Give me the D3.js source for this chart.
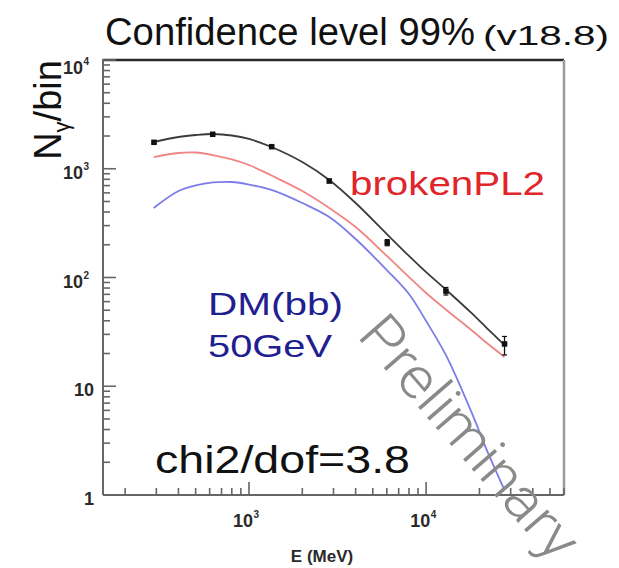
<!DOCTYPE html>
<html><head><meta charset="utf-8">
<script src="https://cdn.jsdelivr.net/npm/d3@7"></script>
<style>body{margin:0;background:#fff}svg{display:block}</style>
</head><body><svg id="c" width="619" height="568"></svg>
<script>
// ---- data ----
const binEnergy = [291, 624, 1343, 2840, 6030, 12930, 27700];     // MeV
const binCounts = [1750, 2075, 1595, 771, 209, 75, 24.5];
const errMinus  = [50, 50, 45, 28, 13, 6, 5.1];
const errPlus   = [50, 50, 45, 30, 14, 6, 4.2];

const curveEnergy = [290, 400, 500, 625, 800, 1000, 1340, 2000, 2840, 4000, 6000, 8000, 10000, 13000, 18000, 22000, 27700];
const totalFit    = [1762, 1959, 2043, 2088, 2022, 1878, 1585, 1153, 788, 484, 251, 158, 112, 76.7, 47.2, 34.3, 23.9];
const brokenPL2   = [1282, 1396, 1410, 1337, 1217, 1082, 867, 624, 436, 291, 158, 101, 72, 50.3, 32.9, 25.0, 18.6];
const dmBB        = [436, 624, 702, 748, 755, 716, 638, 484, 360, 226, 117, 70.5, 39.8, 19.0, 5.80, 2.59, 1.11];

const xDomain = [150, 60000];
const yDomain = [1, 10000];
const xLabelExps = [3, 4];
const yLabelExps = [0, 1, 2, 3, 4];

// ---- drawing ----
const svg = d3.select('#c');
const F = "'Liberation Sans', Arial, sans-serif";
const x = d3.scaleLog().domain(xDomain).range([103, 564]);
const y = d3.scaleLog().domain(yDomain).range([495, 60]);
const [x0, x1] = x.range(), [y0, y1] = y.range();

svg.append('rect').attr('width', 619).attr('height', 568).attr('fill', '#fff');

// frame
svg.append('line').attr('x1', x0).attr('x2', x1).attr('y1', y1).attr('y2', y1).attr('stroke', '#2a2a2a').attr('stroke-width', 2.5);
svg.append('line').attr('x1', x1).attr('x2', x1).attr('y1', y1).attr('y2', y0).attr('stroke', '#9a9a9a').attr('stroke-width', 2.5);
svg.append('line').attr('x1', x0).attr('x2', x0).attr('y1', y1 - 1).attr('y2', y0).attr('stroke', '#666').attr('stroke-width', 2);
svg.append('line').attr('x1', x0).attr('x2', x1).attr('y1', y0).attr('y2', y0).attr('stroke', '#666').attr('stroke-width', 2);

function logTicks(domain) {
  const out = [];
  const lo = Math.floor(Math.log10(domain[0])), hi = Math.ceil(Math.log10(domain[1]));
  for (let e = lo; e <= hi; e++) for (let m = 1; m <= 9; m++) {
    const v = m * Math.pow(10, e);
    if (v >= domain[0] * 0.999 && v <= domain[1] * 1.001) out.push({ v, major: m === 1 });
  }
  return out;
}
// y ticks (inside, to the right)
svg.append('g').selectAll('line').data(logTicks(yDomain)).join('line')
  .attr('x1', x0).attr('x2', d => x0 + (d.major ? 13 : 7))
  .attr('y1', d => y(d.v)).attr('y2', d => y(d.v))
  .attr('stroke', '#666').attr('stroke-width', 1.6);
// x ticks (inside, upward)
svg.append('g').selectAll('line').data(logTicks(xDomain)).join('line')
  .attr('y1', y0).attr('y2', d => y0 - (d.major ? 13 : 7))
  .attr('x1', d => x(d.v)).attr('x2', d => x(d.v))
  .attr('stroke', '#666').attr('stroke-width', 1.6);

// y tick labels
const yl = svg.append('g').selectAll('text').data(yLabelExps).join('text')
  .attr('x', d => d >= 2 ? 89 : 94).attr('y', d => y(Math.pow(10, d)) + (d === 4 ? 14 : 10))
  .attr('text-anchor', 'end').attr('font-family', F).attr('font-weight', 'bold')
  .attr('font-size', 18).attr('fill', '#2a2a2a');
yl.each(function (d) {
  const t = d3.select(this);
  if (d === 0) t.text('1');
  else if (d === 1) t.text('10');
  else {
    t.text('10');
    t.append('tspan').attr('font-size', 10).attr('dy', -9).attr('dx', 0.5).text(d);
  }
});
// x tick labels
svg.append('g').selectAll('text').data(xLabelExps).join('text')
  .attr('x', d => x(Math.pow(10, d)) - 16).attr('y', d => y0 + 32)
  .attr('font-family', F).attr('font-weight', 'bold').attr('font-size', 18).attr('fill', '#2a2a2a')
  .each(function (d) {
    const t = d3.select(this);
    t.text('10');
    t.append('tspan').attr('font-size', 10).attr('dy', -9).attr('dx', 0.5).text(d);
  });

// axis titles
svg.append('text').attr('x', 322).attr('y', 562).attr('text-anchor', 'middle')
  .attr('font-family', F).attr('font-weight', 'bold').attr('font-size', 17).attr('fill', '#2a2a2a')
  .text('E (MeV)');
const yt = svg.append('text').attr('transform', 'translate(61,110) rotate(-90)')
  .attr('text-anchor', 'middle').attr('font-family', F).attr('font-size', 38).attr('fill', '#111');
yt.append('tspan').text('N');
yt.append('tspan').attr('font-size', 22).attr('dy', 8).text('γ');
yt.append('tspan').attr('dy', -8).text('/bin');

// title
svg.append('text').attr('x', 105).attr('y', 45).attr('font-family', F).attr('fill', '#111')
  .attr('font-size', 39).attr('textLength', 370).attr('lengthAdjust', 'spacingAndGlyphs')
  .text('Confidence level 99%');
svg.append('text').attr('x', 483).attr('y', 45).attr('font-family', F).attr('fill', '#111')
  .attr('font-size', 27).attr('textLength', 126).attr('lengthAdjust', 'spacingAndGlyphs')
  .text('(v18.8)');

// curves
const line = d3.line().x(d => x(d[0])).y(d => y(d[1])).curve(d3.curveCatmullRom.alpha(0.5));
const series = [
  { vals: dmBB, color: '#7d7dea' },
  { vals: brokenPL2, color: '#ef8585' },
  { vals: totalFit, color: '#3c3c3c' }
];
svg.append('g').selectAll('path').data(series).join('path')
  .attr('d', s => line(curveEnergy.map((e, i) => [e, s.vals[i]])))
  .attr('fill', 'none').attr('stroke', s => s.color).attr('stroke-width', 1.8);

// data points with error bars
const pts = binEnergy.map((e, i) => ({ e, n: binCounts[i], lo: binCounts[i] - errMinus[i], hi: binCounts[i] + errPlus[i] }));
const pg = svg.append('g');
pg.selectAll('line.eb').data(pts).join('line').attr('class', 'eb')
  .attr('x1', d => x(d.e)).attr('x2', d => x(d.e)).attr('y1', d => y(d.lo)).attr('y2', d => y(d.hi))
  .attr('stroke', '#111').attr('stroke-width', 1.3);
pg.selectAll('line.cap1').data(pts).join('line').attr('class', 'cap1')
  .attr('x1', d => x(d.e) - 2.5).attr('x2', d => x(d.e) + 2.5).attr('y1', d => y(d.lo)).attr('y2', d => y(d.lo))
  .attr('stroke', '#111').attr('stroke-width', 1.2);
pg.selectAll('line.cap2').data(pts).join('line').attr('class', 'cap2')
  .attr('x1', d => x(d.e) - 2.5).attr('x2', d => x(d.e) + 2.5).attr('y1', d => y(d.hi)).attr('y2', d => y(d.hi))
  .attr('stroke', '#111').attr('stroke-width', 1.2);
pg.selectAll('rect').data(pts).join('rect')
  .attr('x', d => x(d.e) - 2.75).attr('y', d => y(d.n) - 2.75).attr('width', 5.5).attr('height', 5.5).attr('fill', '#111');

// annotations
svg.append('text').attr('x', 350).attr('y', 195).attr('font-family', F).attr('font-size', 33)
  .attr('fill', '#e0262a').attr('textLength', 195).attr('lengthAdjust', 'spacingAndGlyphs').text('brokenPL2');
svg.append('text').attr('x', 208).attr('y', 315).attr('font-family', F).attr('font-size', 32)
  .attr('fill', '#1f2090').attr('textLength', 135).attr('lengthAdjust', 'spacingAndGlyphs').text('DM(bb)');
svg.append('text').attr('x', 208).attr('y', 357).attr('font-family', F).attr('font-size', 32)
  .attr('fill', '#1f2090').attr('textLength', 124).attr('lengthAdjust', 'spacingAndGlyphs').text('50GeV');
svg.append('text').attr('x', 155).attr('y', 473).attr('font-family', F).attr('font-size', 38)
  .attr('fill', '#111').attr('textLength', 255).attr('lengthAdjust', 'spacingAndGlyphs').text('chi2/dof=3.8');
svg.append('text').attr('transform', 'translate(455,450) rotate(49)').attr('text-anchor', 'middle')
  .attr('font-family', "Roboto, Lato, 'Open Sans', sans-serif").attr('font-weight', 300)
  .attr('font-size', 58).attr('fill', '#8a8a8a')
  .attr('textLength', 302).attr('lengthAdjust', 'spacingAndGlyphs').text('Preliminary');
</script></body></html>
